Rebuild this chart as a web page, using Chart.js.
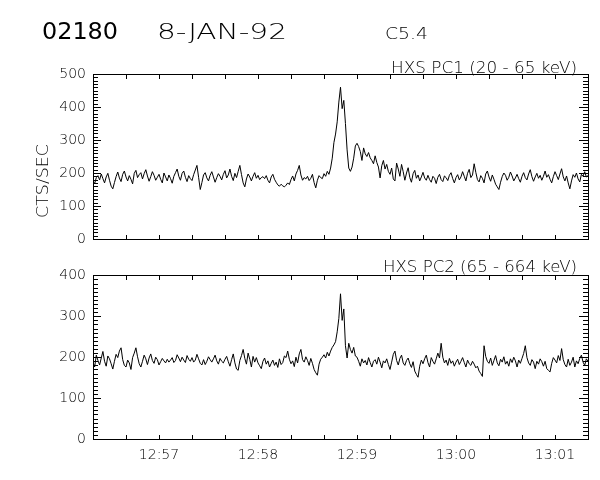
<!DOCTYPE html>
<html>
<head>
<meta charset="utf-8">
<script src="https://cdn.jsdelivr.net/npm/chart.js@4/dist/chart.umd.min.js"></script>
<style>
html, body { margin: 0; padding: 0; background: #fff; }
#wrap { position: relative; width: 600px; height: 480px; }
#pc1 { position: absolute; left: 0; top: 0; }
#pc2 { position: absolute; left: 0; top: 260px; }
</style>
</head>
<body>
<div id="wrap">
<canvas id="pc1" width="600" height="260"></canvas>
<canvas id="pc2" width="600" height="220"></canvas>
</div>
<script>
// seconds since 12:56:20, one sample per second
var timeLabels = ['12:57', '12:58', '12:59', '13:00', '13:01'];
var labelSeconds = [40, 100, 160, 220, 280];
var pc1Ticks = [0, 100, 200, 300, 400, 500];
var pc2Ticks = [0, 100, 200, 300, 400];

var pc1Counts = [
    175,168,186,192,179,197,183,170,188,199,
    178,160,152,171,189,203,185,174,196,206,
    188,176,192,181,167,199,208,186,195,201,
    182,198,210,191,175,189,204,193,178,187,
    196,181,170,200,188,176,194,183,169,190,
    201,212,190,178,199,206,187,174,192,183,
    177,195,209,223,187,150,171,194,201,185,
    176,193,204,188,172,186,198,190,179,196,
    207,185,194,212,190,177,199,186,205,223,
    195,170,158,182,197,188,176,190,201,184,
    193,180,186,189,183,192,178,170,188,196,
    181,172,164,160,166,161,158,163,170,165,
    180,191,176,197,208,223,194,178,186,182,
    190,177,184,196,171,155,178,192,186,183,
    198,190,205,196,215,245,292,318,355,415,
    460,395,420,350,270,215,205,218,245,282,
    290,280,265,238,276,258,250,262,246,238,
    228,252,232,218,185,222,238,212,226,205,
    196,215,182,176,230,212,190,226,204,178,
    200,216,186,172,198,208,184,194,176,188,
    202,185,178,193,180,172,190,184,168,187,
    196,180,174,191,186,177,193,201,183,170,
    186,195,179,188,204,190,176,199,211,186,
    194,228,202,180,173,192,184,170,197,206,
    188,175,194,181,166,158,150,172,189,200,
    193,178,187,203,191,176,185,196,183,172,
    190,201,186,179,197,210,189,175,188,199,
    184,193,178,190,206,187,195,181,170,189,
    204,192,180,197,213,188,176,191,170,152,
    176,195,187,200,182,173,196,190,204,188,
    192
];

var pc2Counts = [
    188,176,205,192,181,198,214,190,178,203,
    196,184,171,190,207,199,215,223,194,180,
    176,193,186,170,199,210,223,201,184,176,
    190,205,196,182,198,208,192,185,200,194,
    181,189,197,191,186,195,188,193,199,187,
    192,206,198,189,200,193,187,204,195,190,
    199,188,193,207,196,185,181,194,182,190,
    201,194,188,196,205,191,183,197,190,186,
    195,202,189,178,194,208,186,171,168,192,
    204,219,197,183,210,195,176,202,188,199,
    186,179,172,190,198,183,191,176,185,193,
    180,188,175,196,182,187,203,199,215,195,
    184,191,177,200,186,208,219,194,188,201,
    192,180,197,185,170,162,156,183,195,200,
    206,198,212,203,215,224,230,238,262,295,
    355,290,318,228,198,234,219,210,224,203,
    200,190,178,196,186,192,181,199,187,176,
    190,194,183,200,188,174,191,186,196,182,
    170,188,207,215,192,181,197,205,186,180,
    192,198,184,175,189,166,158,151,178,193,
    184,196,205,187,176,199,190,183,196,210,
    198,234,200,186,193,180,197,185,191,178,
    188,195,182,190,199,187,176,193,184,180,
    190,183,174,178,166,160,153,228,202,190,
    185,198,180,192,204,186,179,195,188,201,
    183,190,178,196,187,200,191,176,193,185,
    197,209,228,199,186,180,194,188,172,190,
    183,196,189,178,190,172,168,164,185,199,
    193,186,204,192,221,194,182,176,195,180,
    188,200,176,191,184,197,205,188,180,196,
    190
];

var FONT = 'DejaVu Sans';

function toPoints(arr) {
    return arr.map(function(v, i) { return {x: i, y: v}; });
}

// draw text squeezed/stretched to a given width (IDL vector fonts are wide)
function fitText(ctx, text, x, y, width, font, angle) {
    ctx.save();
    ctx.font = font;
    ctx.fillStyle = '#000';
    var w = ctx.measureText(text).width;
    ctx.translate(x, y);
    if (angle) ctx.rotate(angle);
    ctx.scale(width / w, 1);
    ctx.fillText(text, 0, 0);
    ctx.restore();
}

// box around the plot with inward ticks, like IDL
var idlFrame = {
    id: 'idlFrame',
    afterDraw: function(chart, args, opts) {
        var ctx = chart.ctx, a = chart.chartArea;
        var xs = chart.scales.x, ys = chart.scales.y;
        ctx.save();
        ctx.fillStyle = '#000';
        var L = Math.round(a.left), R = Math.round(a.right);
        var T = Math.round(a.top), B = Math.round(a.bottom);
        ctx.fillRect(L, T, R - L + 1, 1);
        ctx.fillRect(L, B, R - L + 1, 1);
        ctx.fillRect(L, T, 1, B - T + 1);
        ctx.fillRect(R, T, 1, B - T + 1);
        var n = Math.round(opts.top / 10);
        for (var i = 0; i <= n; i++) {
            var py = Math.round(ys.getPixelForValue(i * 10));
            var major = i % 10 === 0;
            ctx.fillRect(L + 1, py, major ? 7 : 4, 1);
            ctx.fillRect(R - (major ? 9 : 5), py, major ? 9 : 5, 1);
        }
        for (var k = 0; k <= 15; k++) {
            var px = Math.round(xs.getPixelForValue(k * 20));
            ctx.fillRect(px, B - 4, 1, 4);
            ctx.fillRect(px, T + 1, 1, 4);
        }
        ctx.restore();
    }
};

var headerPC1 = {
    id: 'headerPC1',
    afterDraw: function(chart) {
        var ctx = chart.ctx;
        ctx.save();
        ctx.textBaseline = 'alphabetic';
        fitText(ctx, '02180', 42, 38.5, 76, '23px ' + FONT);
        fitText(ctx, '8-JAN-92', 157, 38.5, 130, '200 22px ' + FONT);
        fitText(ctx, 'C5.4', 385, 38.5, 43, '200 15px ' + FONT);
        fitText(ctx, 'HXS PC1 (20 - 65 keV)', 391, 72.5, 186, '200 15px ' + FONT);
        ctx.textAlign = 'center';
        fitText(ctx, 'CTS/SEC', 47.5, 181, 74, '200 15px ' + FONT, -Math.PI / 2);
        ctx.restore();
    }
};

var headerPC2 = {
    id: 'headerPC2',
    afterDraw: function(chart) {
        var ctx = chart.ctx;
        ctx.save();
        ctx.textBaseline = 'alphabetic';
        fitText(ctx, 'HXS PC2 (65 - 664 keV)', 383, 11.5, 194, '200 15px ' + FONT);
        ctx.restore();
    }
};

function makeOptions(yMax, yTicks, showTimes, pad) {
    return {
        responsive: false,
        animation: false,
        layout: { padding: pad },
        plugins: { legend: { display: false }, tooltip: { enabled: false }, idlFrame: { top: yMax } },
        elements: { point: { radius: 0 }, line: { borderWidth: 1, tension: 0 } },
        scales: {
            x: {
                type: 'linear', min: 0, max: 300,
                grid: { display: false, drawTicks: false },
                border: { display: false },
                afterBuildTicks: function(s) { s.ticks = labelSeconds.map(function(v) { return {value: v}; }); },
                ticks: {
                    display: showTimes, autoSkip: false, maxRotation: 0, padding: 8, color: '#000',
                    font: { family: FONT, size: 14, weight: 200 },
                    callback: function(v) { return timeLabels[labelSeconds.indexOf(v)]; }
                },
                afterFit: function(s) { s.height = showTimes ? 41 : 0; }
            },
            y: {
                min: 0, max: yMax,
                grid: { display: false, drawTicks: false },
                border: { display: false },
                afterBuildTicks: function(s) { s.ticks = yTicks.map(function(v) { return {value: v}; }); },
                ticks: { padding: 7, color: '#000', font: { family: FONT, size: 14, weight: 200 } },
                afterFit: function(s) { s.width = 93; }
            }
        }
    };
}

var chart1 = new Chart(document.getElementById('pc1').getContext('2d'), {
    type: 'line',
    data: { datasets: [{ data: toPoints(pc1Counts), borderColor: '#000', backgroundColor: 'rgba(0,0,0,0)' }] },
    options: makeOptions(500, pc1Ticks, false, { top: 74, left: 0, right: 12, bottom: 21 }),
    plugins: [idlFrame, headerPC1]
});

var chart2 = new Chart(document.getElementById('pc2').getContext('2d'), {
    type: 'line',
    data: { datasets: [{ data: toPoints(pc2Counts), borderColor: '#000', backgroundColor: 'rgba(0,0,0,0)' }] },
    options: makeOptions(400, pc2Ticks, true, { top: 14, left: 0, right: 12, bottom: 0 }),
    plugins: [idlFrame, headerPC2]
});
</script>
</body>
</html>
